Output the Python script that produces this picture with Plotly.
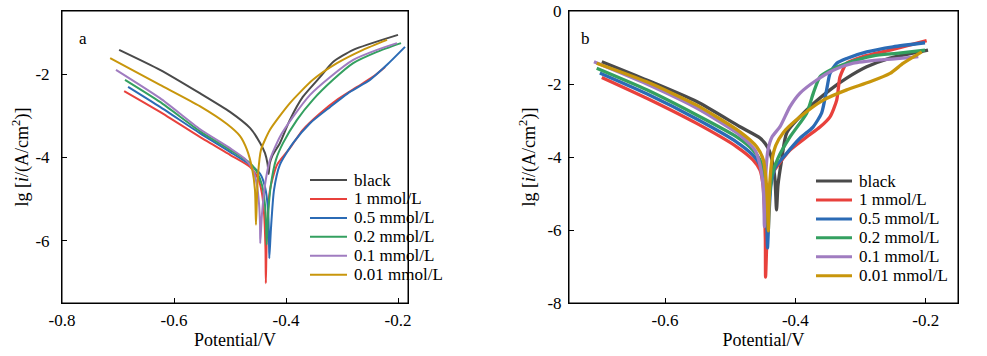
import plotly.graph_objects as go

W, H = 987, 356

series_names = ["black", "1 mmol/L", "0.5 mmol/L", "0.2 mmol/L", "0.1 mmol/L", "0.01 mmol/L"]
colors = ["#4a4a4a", "#e8413c", "#2b6bb5", "#34a060", "#a07cc0", "#c8960c"]

# ---------- panel a ----------
a_black_E = [-0.698, -0.625, -0.554, -0.500, -0.464, -0.446, -0.4375, -0.433, -0.431, -0.429, -0.424, -0.411, -0.393, -0.370, -0.339, -0.316, -0.280, -0.200]
a_black_lg = [-1.42, -1.90, -2.46, -2.91, -3.30, -3.66, -3.90, -4.15, -4.40, -4.15, -3.95, -3.66, -3.10, -2.55, -2.07, -1.71, -1.42, -1.06]
a_red_E = [-0.689, -0.625, -0.554, -0.500, -0.464, -0.450, -0.443, -0.439, -0.4366, -0.436, -0.434, -0.4286, -0.416, -0.393, -0.370, -0.339, -0.309, -0.273, -0.245, -0.223]
a_red_lg = [-2.41, -2.91, -3.51, -3.94, -4.23, -4.50, -4.86, -5.38, -6.22, -7.02, -5.74, -4.78, -4.18, -3.78, -3.34, -2.94, -2.62, -2.31, -2.07, -1.83]
a_blue_E = [-0.682, -0.625, -0.554, -0.500, -0.464, -0.446, -0.4375, -0.432, -0.4304, -0.4298, -0.427, -0.4214, -0.411, -0.3875, -0.357, -0.321, -0.286, -0.250, -0.2196, -0.1875]
a_blue_lg = [-2.31, -2.79, -3.42, -3.87, -4.18, -4.40, -4.71, -5.26, -5.98, -6.42, -5.74, -4.78, -4.18, -3.66, -3.18, -2.79, -2.43, -2.14, -1.78, -1.35]
a_green_E = [-0.6875, -0.625, -0.554, -0.500, -0.464, -0.452, -0.443, -0.4375, -0.4357, -0.4345, -0.432, -0.427, -0.418, -0.4054, -0.3804, -0.352, -0.316, -0.280, -0.2375, -0.1946]
a_green_lg = [-2.14, -2.67, -3.37, -3.82, -4.14, -4.35, -4.66, -5.14, -5.62, -6.10, -5.38, -4.66, -4.06, -3.66, -3.10, -2.62, -2.14, -1.74, -1.47, -1.26]
a_purple_E = [-0.7036, -0.625, -0.554, -0.500, -0.473, -0.459, -0.452, -0.448, -0.4464, -0.4460, -0.443, -0.4375, -0.4286, -0.411, -0.3875, -0.357, -0.321, -0.280, -0.2375, -0.2018]
a_purple_lg = [-1.90, -2.58, -3.32, -3.78, -4.04, -4.30, -4.66, -5.14, -5.62, -6.06, -5.38, -4.66, -4.06, -3.51, -3.03, -2.50, -2.07, -1.66, -1.42, -1.26]
a_gold_E = [-0.714, -0.625, -0.554, -0.5054, -0.482, -0.4696, -0.4607, -0.4554, -0.4536, -0.452, -0.450, -0.4446, -0.4286, -0.393, -0.352, -0.309, -0.2625, -0.2196]
a_gold_lg = [-1.62, -2.26, -2.77, -3.20, -3.49, -3.82, -4.26, -4.78, -5.62, -5.02, -4.42, -3.82, -3.34, -2.70, -2.14, -1.74, -1.42, -1.18]

# ---------- panel b ----------
b_black_E = [-0.697, -0.628, -0.5514, -0.485, -0.4542, -0.442, -0.4358, -0.4312, -0.4289, -0.4266, -0.421, -0.4133, -0.3826, -0.3468, -0.3212, -0.2905, -0.2547, -0.1964]
b_black_lg = [-1.39, -1.89, -2.48, -3.17, -3.48, -3.75, -4.08, -4.63, -5.45, -4.77, -4.08, -3.34, -2.71, -2.16, -1.84, -1.53, -1.29, -1.07]
b_red_E = [-0.697, -0.628, -0.5514, -0.490, -0.465, -0.4542, -0.4496, -0.4473, -0.446, -0.4457, -0.4432, -0.4402, -0.434, -0.4266, -0.4082, -0.3826, -0.3622, -0.3468, -0.3365, -0.3315, -0.3212, -0.2962, -0.2547, -0.1985]
b_red_lg = [-1.82, -2.39, -3.08, -3.72, -4.08, -4.36, -4.77, -5.45, -6.27, -7.29, -6.0, -4.90, -4.41, -4.22, -3.81, -3.45, -3.18, -2.90, -2.44, -1.81, -1.43, -1.25, -1.07, -0.81]
b_blue_E = [-0.700, -0.628, -0.5514, -0.490, -0.465, -0.4542, -0.4481, -0.445, -0.4435, -0.4427, -0.4404, -0.4374, -0.4312, -0.4158, -0.3926, -0.3729, -0.3596, -0.352, -0.3468, -0.3365, -0.3212, -0.2905, -0.2501, -0.201]
b_blue_lg = [-1.70, -2.27, -2.96, -3.59, -3.95, -4.22, -4.63, -5.32, -6.0, -6.49, -5.59, -4.77, -4.30, -3.95, -3.48, -3.18, -2.79, -2.16, -1.71, -1.43, -1.30, -1.12, -0.98, -0.87]
b_green_E = [-0.7048, -0.628, -0.5514, -0.490, -0.465, -0.4542, -0.4481, -0.445, -0.4435, -0.4404, -0.4358, -0.4266, -0.4082, -0.3826, -0.3724, -0.3622, -0.3468, -0.3212, -0.2804, -0.2444, -0.201]
b_green_lg = [-1.57, -2.16, -2.85, -3.45, -3.81, -4.08, -4.49, -5.04, -5.59, -5.18, -4.49, -4.03, -3.45, -2.80, -2.25, -1.80, -1.62, -1.43, -1.23, -1.16, -1.07]
b_purple_E = [-0.709, -0.628, -0.5514, -0.485, -0.4619, -0.4542, -0.4496, -0.4481, -0.4475, -0.4464, -0.445, -0.442, -0.4358, -0.4235, -0.4082, -0.3928, -0.3672, -0.3418, -0.3111, -0.2701, -0.2394, -0.2113]
b_purple_lg = [-1.39, -2.0, -2.66, -3.40, -3.81, -4.22, -4.77, -5.32, -5.91, -5.18, -4.36, -3.81, -3.45, -3.17, -2.62, -2.25, -1.89, -1.62, -1.43, -1.34, -1.30, -1.25]
b_gold_E = [-0.7048, -0.628, -0.5514, -0.485, -0.4593, -0.4491, -0.445, -0.4427, -0.4415, -0.4404, -0.4389, -0.4358, -0.4297, -0.4189, -0.3928, -0.3571, -0.3212, -0.2854, -0.2547, -0.2343, -0.206]
b_gold_lg = [-1.43, -1.94, -2.58, -3.31, -3.72, -4.08, -4.63, -5.32, -6.02, -5.32, -4.63, -4.08, -3.67, -3.34, -2.90, -2.44, -2.16, -1.94, -1.71, -1.43, -1.12]

# ticks
a_xtick_vals = [-0.8, -0.6, -0.4, -0.2]
a_xtick_text = ["-0.8", "-0.6", "-0.4", "-0.2"]
a_ytick_vals = [-2, -4, -6]
a_ytick_text = ["-2", "-4", "-6"]
b_xtick_vals = [-0.6, -0.4, -0.2]
b_xtick_text = ["-0.6", "-0.4", "-0.2"]
b_ytick_vals = [0, -2, -4, -6, -8]
b_ytick_text = ["0", "-2", "-4", "-6", "-8"]

x_title = "Potential/V"
y_title = "lg [<i>i</i>/(A/cm<sup>2</sup>)]"
panel_labels = ["a", "b"]

FONT = "Liberation Serif"

a_E = [a_black_E, a_red_E, a_blue_E, a_green_E, a_purple_E, a_gold_E]
a_L = [a_black_lg, a_red_lg, a_blue_lg, a_green_lg, a_purple_lg, a_gold_lg]
b_E = [b_black_E, b_red_E, b_blue_E, b_green_E, b_purple_E, b_gold_E]
b_L = [b_black_lg, b_red_lg, b_blue_lg, b_green_lg, b_purple_lg, b_gold_lg]

fig = go.Figure()
for name, c, E, L in zip(series_names, colors, a_E, a_L):
    fig.add_trace(go.Scatter(x=E, y=L, mode="lines", name=name, showlegend=False,
                             line=dict(color=c, width=2, shape="spline", smoothing=0.6),
                             xaxis="x", yaxis="y"))
for name, c, E, L in zip(series_names, colors, b_E, b_L):
    fig.add_trace(go.Scatter(x=E, y=L, mode="lines", name=name, showlegend=False,
                             line=dict(color=c, width=3.3, shape="spline", smoothing=0.6),
                             xaxis="x2", yaxis="y2"))

def px(x):
    return x / W

def py(y):
    return 1 - y / H

def axis_common():
    return dict(showline=True, linecolor="#000000", linewidth=1, mirror=True,
                ticks="inside", ticklen=5, tickwidth=1, tickcolor="#000000",
                showgrid=False, zeroline=False, automargin=False,
                tickfont=dict(family=FONT, size=17, color="black"))

def title(text, standoff):
    return dict(text=text, standoff=standoff, font=dict(family=FONT, size=18, color="black"))

fig.update_layout(
    template="none",
    width=W, height=H, margin=dict(l=0, r=0, t=0, b=0, autoexpand=False),
    paper_bgcolor="white", plot_bgcolor="white", showlegend=False,
    font=dict(family=FONT, size=17, color="black"),
    xaxis=dict(domain=[px(62), px(408)], range=[-0.8, -0.8 + (408 - 62) / 560],
               tickvals=a_xtick_vals, ticktext=a_xtick_text, ticklabelstandoff=2,
               title=title(x_title, 1), anchor="y", **axis_common()),
    yaxis=dict(domain=[py(303), py(11)], range=[-2 - (303 - 74) / 41.667, -2 + (74 - 11) / 41.667],
               tickvals=a_ytick_vals, ticktext=a_ytick_text, ticklabelstandoff=8,
               title=title(y_title, 2), anchor="x", **axis_common()),
    xaxis2=dict(domain=[px(569), px(958)], range=[-0.6 - (665 - 569) / 651.7, -0.6 + (958 - 665) / 651.7],
                tickvals=b_xtick_vals, ticktext=b_xtick_text, ticklabelstandoff=2,
                title=title(x_title, 1), anchor="y2", **axis_common()),
    yaxis2=dict(domain=[py(303), py(11)], range=[-8, 0],
                tickvals=b_ytick_vals, ticktext=b_ytick_text, ticklabelstandoff=3,
                title=title(y_title, 7), anchor="x2", **axis_common()),
)

annotations = []
shapes = []
# panel frames (paper refs so they are not clipped)
for fx0, fx1 in ((62, 408), (569, 958)):
    shapes.append(dict(type="rect", xref="paper", yref="paper",
                       x0=px(fx0), x1=px(fx1), y0=py(303), y1=py(11),
                       line=dict(color="black", width=1), fillcolor="rgba(0,0,0,0)", layer="above"))

annotations.append(dict(text=panel_labels[0], x=px(77), y=py(27), xref="paper", yref="paper",
                        showarrow=False, font=dict(family=FONT, size=17, color="black")))
annotations.append(dict(text=panel_labels[1], x=px(585), y=py(27), xref="paper", yref="paper",
                        showarrow=False, font=dict(family=FONT, size=17, color="black")))

# legends (manual, to match row spacing)
legend_specs = [(310, 347, 352, 180, 2), (816, 852, 857, 181, 3)]
for x0, x1, xt, y0, lw in legend_specs:
    for i, (name, c) in enumerate(zip(series_names, colors)):
        yy = y0 + 18.95 * i
        shapes.append(dict(type="line", xref="paper", yref="paper",
                           x0=px(x0), x1=px(x1), y0=py(yy), y1=py(yy),
                           line=dict(color=c, width=lw)))
        annotations.append(dict(text=name, x=px(xt), y=py(yy), xref="paper", yref="paper",
                                xanchor="left", yanchor="middle", showarrow=False,
                                font=dict(family=FONT, size=17, color="black")))

fig.update_layout(annotations=annotations, shapes=shapes)
fig.write_html("out.html", config={"displayModeBar": False},
               post_script="document.body.style.margin='0';document.body.style.padding='0';document.body.style.overflow='hidden';")
